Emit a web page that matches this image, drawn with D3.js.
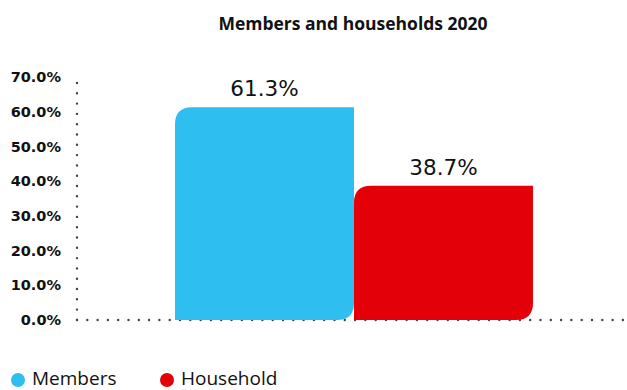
<!DOCTYPE html>
<html>
<head>
<meta charset="utf-8">
<script src="https://cdn.jsdelivr.net/npm/d3@7"></script>
<style>
  html, body { margin: 0; padding: 0; background: #fff; }
  svg { display: block; }
</style>
</head>
<body>
<svg id="chart" width="627" height="390"></svg>
<script>
// Share of members and households, 2020
const categories = ["2020"];
const seriesNames = ["Members", "Household"];
const seriesValues = [61.3, 38.7];
const seriesColors = ["#2ebef0", "#e30009"];
const yTicks = [0, 10, 20, 30, 40, 50, 60, 70];

const W = 627, H = 390;
const svg = d3.select("#chart");
const margin = { top: 77, right: 0, bottom: 71, left: 77 };
const innerW = W - margin.left - margin.right;
const innerH = H - margin.top - margin.bottom;

const g = svg.append("g").attr("transform", `translate(${margin.left},${margin.top})`);

const y = d3.scaleLinear().domain([0, 70]).range([innerH + 1, 0]);
const x0 = d3.scaleBand().domain(categories).range([4, innerW]).paddingInner(0).paddingOuter(0.2626);
const x1 = d3.scaleBand().domain(seriesNames).range([0, x0.bandwidth()]).padding(0);

// Title
svg.append("text")
  .attr("x", 353).attr("y", 30)
  .attr("text-anchor", "middle")
  .attr("font-family", "'Open Sans', sans-serif")
  .attr("font-weight", "bold")
  .attr("font-size", 17.5)
  .attr("fill", "#111")
  .text("Members and households 2020");

// Y axis: labels only, dotted rule drawn separately
const yAxis = d3.axisLeft(y).tickValues(yTicks).tickSize(0).tickPadding(16)
  .tickFormat(d => d3.format(".1f")(d) + "%");
const ya = g.append("g").call(yAxis);
ya.select(".domain").remove();
ya.selectAll("text")
  .attr("font-family", "'DejaVu Sans', sans-serif")
  .attr("font-weight", "bold")
  .attr("font-size", 14.5)
  .attr("fill", "#111");

// Dotted axis rules
const dotStyle = sel => sel
  .attr("stroke", "#444")
  .attr("stroke-width", 2.4)
  .attr("stroke-linecap", "round")
  .attr("stroke-dasharray", "0,10.3");
g.append("line").attr("x1", 0).attr("x2", 0).attr("y1", y(70) + 6).attr("y2", y(0)).call(dotStyle);
g.append("line").attr("x1", 0).attr("x2", innerW).attr("y1", y(0)).attr("y2", y(0)).call(dotStyle);

// Bar path: rounded top-left and bottom-right corners
function barPath(x, yTop, w, h, r) {
  r = Math.min(r, w / 2, h / 2);
  return `M${x},${yTop + h}` +
    `L${x},${yTop + r}` +
    `Q${x},${yTop} ${x + r},${yTop}` +
    `L${x + w},${yTop}` +
    `L${x + w},${yTop + h - r}` +
    `Q${x + w},${yTop + h} ${x + w - r},${yTop + h}` +
    `Z`;
}

const bars = seriesNames.map((name, i) => ({ name, value: seriesValues[i], color: seriesColors[i] }));
const grp = g.append("g").attr("transform", `translate(${x0(categories[0])},0)`);

grp.selectAll("path.bar").data(bars).join("path")
  .attr("class", "bar")
  .attr("fill", d => d.color)
  .attr("d", d => barPath(x1(d.name), y(d.value), x1.bandwidth(), y(0) - y(d.value), 17));

grp.selectAll("text.val").data(bars).join("text")
  .attr("class", "val")
  .attr("x", d => x1(d.name) + x1.bandwidth() / 2)
  .attr("y", d => y(d.value) - 11)
  .attr("text-anchor", "middle")
  .attr("font-family", "'DejaVu Sans', sans-serif")
  .attr("font-size", 21.5)
  .attr("fill", "#111")
  .text(d => d3.format(".1f")(d.value) + "%");

// Legend
const legendX = [18, 167];
const lg = svg.append("g");
bars.forEach((d, i) => {
  lg.append("circle").attr("cx", legendX[i]).attr("cy", 380).attr("r", 7).attr("fill", d.color);
  lg.append("text")
    .attr("x", legendX[i] + 14).attr("y", 385)
    .attr("font-family", "'Open Sans', sans-serif")
    .attr("font-size", 19)
    .attr("fill", "#111")
    .text(d.name);
});
</script>
</body>
</html>
